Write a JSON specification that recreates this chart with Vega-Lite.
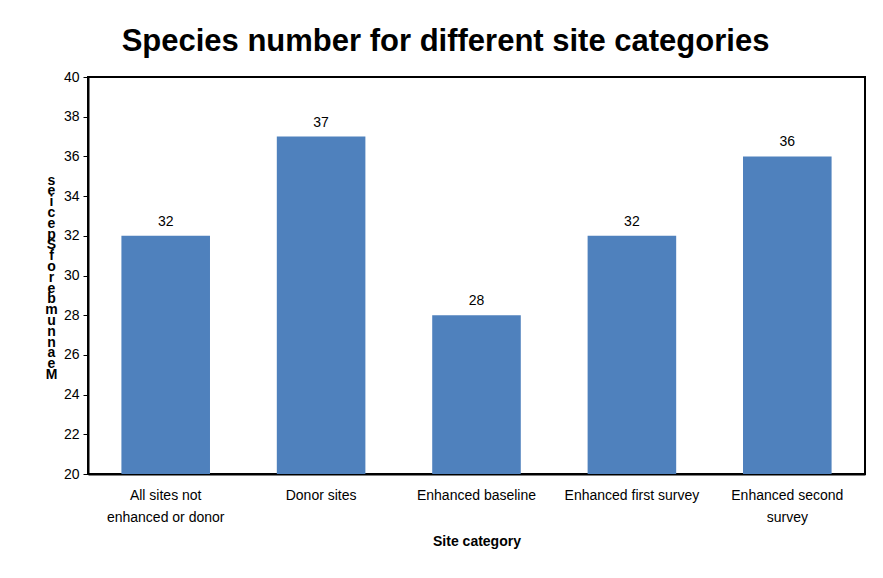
{
  "$schema": "https://vega.github.io/schema/vega-lite/v6.json",
  "width": 777,
  "height": 397,
  "autosize": {"type": "none"},
  "padding": {"left": 88, "top": 77, "right": 18, "bottom": 104},
  "background": "white",
  "title": {
    "text": "Species number for different site categories",
    "font": "Liberation Sans",
    "fontSize": 31,
    "fontWeight": "bold",
    "color": "black",
    "anchor": "middle",
    "offset": 12,
    "dx": -31
  },
  "data": {
    "values": [
      {"category": "All sites not enhanced or donor", "species": 32},
      {"category": "Donor sites", "species": 37},
      {"category": "Enhanced baseline", "species": 28},
      {"category": "Enhanced first survey", "species": 32},
      {"category": "Enhanced second survey", "species": 36}
    ]
  },
  "encoding": {
    "x": {
      "field": "category",
      "type": "nominal",
      "sort": null,
      "scale": {"paddingInner": 0.43, "paddingOuter": 0.215},
      "axis": {
        "title": "Site category",
        "titleFont": "Liberation Sans",
        "titleFontSize": 14,
        "titleFontWeight": "bold",
        "titleColor": "black",
        "titlePadding": 10,
        "labelAngle": 0,
        "labelFont": "Liberation Sans",
        "labelFontSize": 14,
        "labelColor": "black",
        "labelPadding": 14,
        "labelLineHeight": 22,
        "labelExpr": "datum.label == 'All sites not enhanced or donor' ? ['All sites not', 'enhanced or donor'] : datum.label == 'Enhanced second survey' ? ['Enhanced second', 'survey'] : datum.label",
        "ticks": false,
        "domainColor": "black",
        "domainWidth": 2
      }
    },
    "y": {
      "field": "species",
      "type": "quantitative",
      "scale": {"domain": [20, 40]},
      "axis": {
        "values": [20, 22, 24, 26, 28, 30, 32, 34, 36, 38, 40],
        "grid": false,
        "labelFont": "Liberation Sans",
        "labelFontSize": 14,
        "labelColor": "black",
        "labelPadding": 4,
        "tickColor": "black",
        "tickSize": 5,
        "domainColor": "black",
        "domainWidth": 2,
        "title": ["s", "e", "i", "c", "e", "p", "S", "f", "o", "r", "e", "b", "m", "u", "n", "n", "a", "e", "M"],
        "titleAngle": 0,
        "titleFont": "Liberation Sans",
        "titleFontSize": 14,
        "titleFontWeight": "bold",
        "titleColor": "black",
        "titleLineHeight": 10.8,
        "titleAlign": "center",
        "titleBaseline": "top",
        "titleX": -37,
        "titleY": 96
      }
    }
  },
  "layer": [
    {"mark": {"type": "bar", "color": "#4F81BD", "clip": true}},
    {
      "mark": {"type": "text", "dy": -14, "font": "Liberation Sans", "fontSize": 14, "color": "black"},
      "encoding": {"text": {"field": "species", "type": "quantitative"}}
    }
  ],
  "config": {
    "view": {"stroke": "black", "strokeWidth": 2}
  }
}
